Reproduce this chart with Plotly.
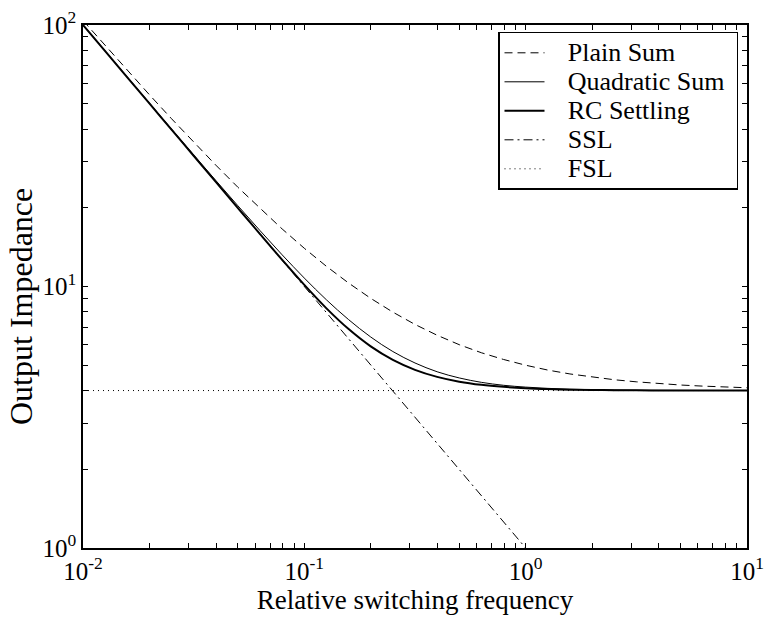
import plotly.graph_objects as go

# Relative switching frequency (log-spaced, 0.1 decade steps)
freq = [0.01, 0.01259, 0.01585, 0.01995, 0.02512, 0.03162, 0.03981, 0.05012, 0.0631, 0.07943,
        0.1, 0.1259, 0.1585, 0.1995, 0.2512, 0.3162, 0.3981, 0.5012, 0.631, 0.7943,
        1.0, 1.259, 1.585, 1.995, 2.512, 3.162, 3.981, 5.012, 6.31, 7.943, 10.0]

plain_sum = [104.0, 83.43, 67.10, 54.12, 43.81, 35.62, 29.12, 23.95, 19.85, 16.59,
             14.0, 11.94, 10.31, 9.01, 7.98, 7.16, 6.51, 5.99, 5.58, 5.26,
             5.0, 4.79, 4.63, 4.50, 4.40, 4.32, 4.25, 4.20, 4.16, 4.13, 4.10]

quadratic_sum = [100.08, 79.53, 63.23, 50.28, 40.01, 31.87, 25.44, 20.35, 16.35, 13.21,
                 10.77, 8.89, 7.47, 6.41, 5.64, 5.10, 4.72, 4.47, 4.30, 4.19,
                 4.123, 4.078, 4.049, 4.031, 4.020, 4.012, 4.008, 4.005, 4.003, 4.002, 4.001]

rc_settling = [100.0, 79.43, 63.10, 50.12, 39.81, 31.62, 25.12, 19.95, 15.86, 12.64,
               10.14, 8.248, 6.872, 5.902, 5.241, 4.801, 4.513, 4.326, 4.207, 4.132,
               4.083, 4.052, 4.033, 4.021, 4.013, 4.008, 4.005, 4.003, 4.002, 4.001, 4.001]

ssl_freq = [0.01, 1.0]
ssl_vals = [100.0, 1.0]

fsl_freq = [0.01, 10.0]
fsl_vals = [4.0, 4.0]

series_names = ["Plain Sum", "Quadratic Sum", "RC Settling", "SSL", "FSL"]

x_title = "Relative switching frequency"
y_title = "Output Impedance"

# Tick positions (decades labelled, intermediate ones as minor ticks)
x_decades = [0.01, 0.1, 1, 10]
x_decade_labels = ["10<sup>-2</sup>", "10<sup>-1</sup>", "10<sup>0</sup>", "10<sup>1</sup>"]
y_decades = [1, 10, 100]
y_decade_labels = ["10<sup>0</sup>", "10<sup>1</sup>", "10<sup>2</sup>"]
mantissas = [1, 2, 3, 4, 5, 6, 7, 8, 9]


def tick_set(decades, labels):
    vals, texts = [], []
    for i, d in enumerate(decades):
        for m in mantissas:
            if i == len(decades) - 1 and m > 1:
                break
            vals.append(d * m)
            texts.append(labels[i] if m == 1 else "")
    return vals, texts


xt_vals, xt_text = tick_set(x_decades, x_decade_labels)
yt_vals, yt_text = tick_set(y_decades, y_decade_labels)

font_family = "Liberation Serif, Times New Roman, Times, serif"


def legend_label(name):
    return ('<span style="font-size:26px">\u00a0\u00a0\u2009' + name + '\u00a0</span>')


fig = go.Figure()
fig.add_trace(go.Scatter(x=freq, y=plain_sum, mode="lines", name=legend_label(series_names[0]),
                         line=dict(color="black", width=1, dash="8px,5px")))
fig.add_trace(go.Scatter(x=freq, y=quadratic_sum, mode="lines", name=legend_label(series_names[1]),
                         line=dict(color="black", width=1, shape="spline")))
fig.add_trace(go.Scatter(x=freq, y=rc_settling, mode="lines", name=legend_label(series_names[2]),
                         line=dict(color="black", width=2, shape="spline")))
fig.add_trace(go.Scatter(x=ssl_freq, y=ssl_vals, mode="lines", name=legend_label(series_names[3]),
                         line=dict(color="black", width=1, dash="9px,4px,2px,4px")))
fig.add_trace(go.Scatter(x=fsl_freq, y=fsl_vals, mode="lines", name=legend_label(series_names[4]),
                         line=dict(color="black", width=1, dash="1px,4px")))

axis_common = dict(
    type="log", showgrid=False, zeroline=False, showline=True, linecolor="black",
    linewidth=1.5, mirror="ticks", ticks="inside", ticklen=5, tickcolor="black",
    tickwidth=1, automargin=False, ticklabeloverflow="allow",
    tickfont=dict(family=font_family, size=25, color="black"),
)

fig.update_xaxes(range=[-2, 1], tickmode="array", tickvals=xt_vals, ticktext=xt_text,
                 title=dict(text=x_title,
                            font=dict(family=font_family, size=27, color="black"), standoff=0),
                 **axis_common)
fig.update_yaxes(range=[0, 2], tickmode="array", tickvals=yt_vals, ticktext=yt_text,
                 **axis_common)

# y-axis title placed as a rotated annotation (sits slightly below the axis centre)
fig.add_annotation(text=y_title, xref="paper", yref="paper", x=-0.0934, y=0.4627,
                   textangle=-90, showarrow=False, xanchor="center", yanchor="middle",
                   font=dict(family=font_family, size=32, color="black"))

fig.update_layout(
    width=764, height=623,
    margin=dict(l=83, r=17, t=25, b=75),
    paper_bgcolor="white", plot_bgcolor="white",
    font=dict(family=font_family, size=24, color="black"),
    showlegend=True,
    legend=dict(x=0.625, y=0.987, xanchor="left", yanchor="top",
                bgcolor="white", bordercolor="black", borderwidth=1.5,
                font=dict(family=font_family, size=20, color="black"),
                tracegroupgap=0, itemwidth=40),
)

fig.write_html("out.html", config={"displayModeBar": False})

# Remove the default page margin so the figure fills the window exactly.
with open("out.html", "r", encoding="utf-8") as fh:
    html = fh.read()
html = html.replace("<body>", '<body style="margin:0;padding:0;overflow:hidden">', 1)
with open("out.html", "w", encoding="utf-8") as fh:
    fh.write(html)
